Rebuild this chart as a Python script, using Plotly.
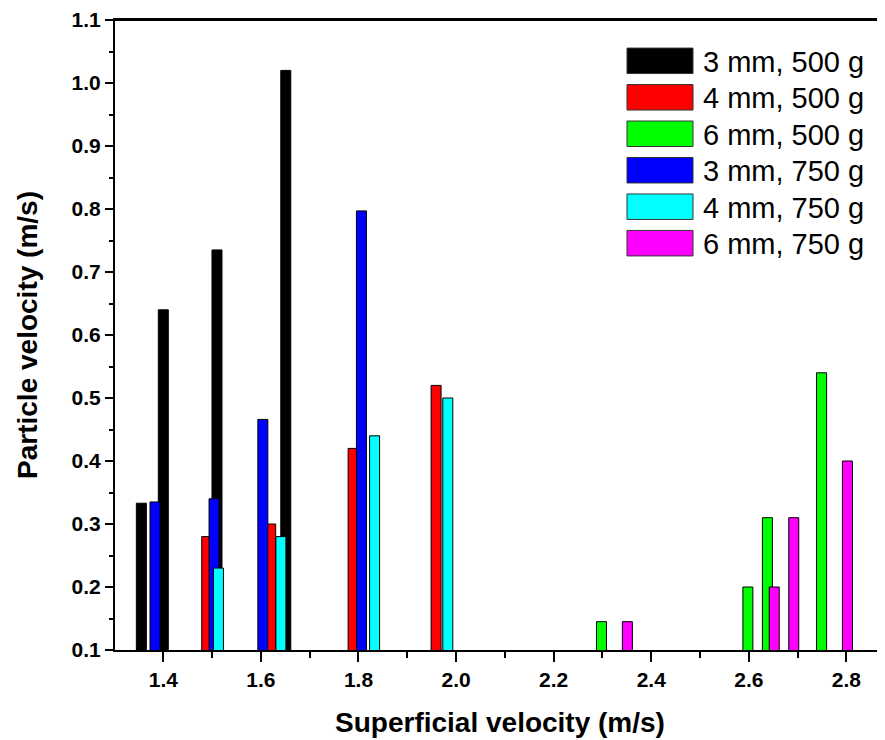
import plotly.graph_objects as go

# ---- data ----
series_names = ["3 mm, 500 g", "4 mm, 500 g", "6 mm, 500 g",
                "3 mm, 750 g", "4 mm, 750 g", "6 mm, 750 g"]
series_colors = ["#000000", "#ff0000", "#00ff00", "#0000ff", "#00ffff", "#ff00ff"]

x_3mm_500 = [1.355, 1.40, 1.51, 1.651]
y_3mm_500 = [0.333, 0.640, 0.735, 1.020]
x_4mm_500 = [1.489, 1.620, 1.789, 1.959]
y_4mm_500 = [0.280, 0.300, 0.420, 0.520]
x_6mm_500 = [2.298, 2.598, 2.638, 2.749]
y_6mm_500 = [0.145, 0.200, 0.310, 0.540]
x_3mm_750 = [1.383, 1.504, 1.604, 1.806]
y_3mm_750 = [0.335, 0.340, 0.466, 0.797]
x_4mm_750 = [1.513, 1.641, 1.833, 1.983]
y_4mm_750 = [0.230, 0.280, 0.440, 0.500]
x_6mm_750 = [2.351, 2.652, 2.692, 2.802]
y_6mm_750 = [0.145, 0.200, 0.310, 0.400]

xs = [x_3mm_500, x_4mm_500, x_6mm_500, x_3mm_750, x_4mm_750, x_6mm_750]
ys = [y_3mm_500, y_4mm_500, y_6mm_500, y_3mm_750, y_4mm_750, y_6mm_750]

x_range = [1.301, 2.879]
y_range = [0.1, 1.1]
bar_width = 0.0205

FONT = "Liberation Sans, Arial, Helvetica, sans-serif"

fig = go.Figure()
for name, color, x, y in zip(series_names, series_colors, xs, ys):
    fig.add_trace(go.Bar(
        x=x, y=y, name=name, width=bar_width,
        marker=dict(color=color, line=dict(color="#000000", width=1)),
        showlegend=False,
    ))

# page body has an ~8px margin, so the figure is a bit smaller and shifted
OFF = 8
W, H = 885 - OFF, 740 - OFF
ml, mr, mt, mb = 115 - OFF, 0, 17 - OFF, 90
pw, ph = W - ml - mr, H - mt - mb

def px_to_paper_x(px):
    return (px - OFF - ml) / pw

def px_to_paper_y(py):
    return (H - mb - (py - OFF)) / ph

# manual legend (large swatches like the original)
shapes = []
annotations = []
row0, row_step = 58.0, 36.65
for i, (name, color) in enumerate(zip(series_names, series_colors)):
    cy = row0 + i * row_step
    shapes.append(dict(
        type="rect", xref="paper", yref="paper",
        x0=px_to_paper_x(627), x1=px_to_paper_x(693),
        y0=px_to_paper_y(cy + 12.8), y1=px_to_paper_y(cy - 12.8),
        fillcolor=color, line=dict(color="#333333", width=1),
    ))
    annotations.append(dict(
        xref="paper", yref="paper", x=px_to_paper_x(701), y=px_to_paper_y(cy + 1),
        xanchor="left", yanchor="middle", text=name, showarrow=False,
        font=dict(family=FONT, size=29, color="#000000"),
    ))

# top frame line (mirror of the x axis)
shapes.append(dict(type="line", xref="paper", yref="paper", x0=0, x1=1, y0=1, y1=1,
                   line=dict(color="black", width=2), layer="above"))

fig.update_layout(
    width=W, height=H,
    margin=dict(l=ml, r=mr, t=mt, b=mb),
    paper_bgcolor="white", plot_bgcolor="white",
    barmode="overlay",
    showlegend=False,
    shapes=shapes,
    annotations=annotations,
    xaxis=dict(
        range=x_range, tick0=1.4, dtick=0.2, tickformat=".1f",
        ticks="outside", ticklen=10, tickwidth=2, tickcolor="black",
        minor=dict(dtick=0.1, tick0=1.3, ticks="outside", ticklen=6, tickwidth=2, tickcolor="black"),
        showline=True, linecolor="black", linewidth=2, mirror=True,
        showgrid=False, zeroline=False, ticklabeloverflow="allow",
        tickfont=dict(family=FONT, size=21, color="black", weight="bold"),
        title=dict(text="Superficial velocity (m/s)", standoff=22,
                   font=dict(family=FONT, size=28, color="black", weight="bold")),
    ),
    yaxis=dict(
        range=y_range, tick0=0.1, dtick=0.1, tickformat=".1f",
        ticks="outside", ticklen=8, tickwidth=2, tickcolor="black",
        minor=dict(dtick=0.05, ticks="outside", ticklen=4, tickwidth=2, tickcolor="black"),
        showline=True, linecolor="black", linewidth=2, mirror=False,
        showgrid=False, zeroline=False, ticklabeloverflow="allow",
        tickfont=dict(family=FONT, size=21, color="black", weight="bold"),
        title=dict(text="Particle velocity (m/s)", standoff=26,
                   font=dict(family=FONT, size=28, color="black", weight="bold")),
    ),
)

fig.write_html("out.html")
